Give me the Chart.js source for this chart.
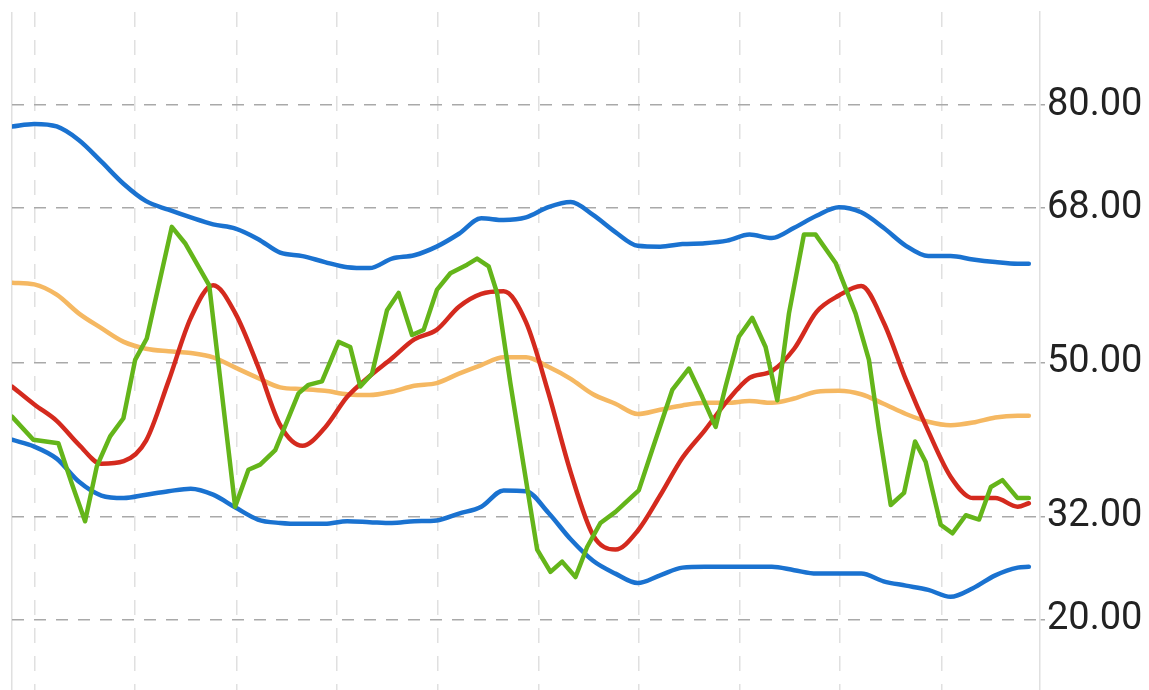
<!DOCTYPE html>
<html>
<head>
<meta charset="utf-8">
<script src="https://cdn.jsdelivr.net/npm/chart.js@4.4.1/dist/chart.umd.min.js"></script>
<style>
  html, body { margin: 0; padding: 0; background: #fff; overflow: hidden; }
</style>
</head>
<body>
<canvas id="chart" width="1149" height="690"></canvas>
<script>
// sample positions (x index) for the smooth lines
const days = [0, 2, 4, 6, 8, 10, 12, 14, 16, 18, 20, 22, 24, 26, 28, 30, 32, 34, 36, 38, 40, 42, 44, 46,
              48, 50, 52, 54, 56, 58, 60, 62, 64, 66, 68, 70, 72, 74, 76, 78, 80, 82, 84, 86, 88, 90, 91];

const upperBand = [77.5, 77.8, 77.5, 75.9, 73.4, 70.8, 68.8, 67.8, 66.9, 66.1, 65.6, 64.4, 62.8, 62.4, 61.7, 61.1,
                   61.0, 62.1, 62.5, 63.5, 65.0, 66.8, 66.6, 66.9, 68.1, 68.7, 67.2, 65.2, 63.6, 63.5, 63.8, 63.9,
                   64.2, 64.9, 64.5, 65.7, 67.1, 68.1, 67.5, 65.7, 63.6, 62.4, 62.4, 62.0, 61.7, 61.5, 61.5];

const lowerBand = [41.0, 40.2, 38.8, 36.1, 34.5, 34.2, 34.6, 35.0, 35.3, 34.6, 33.1, 31.7, 31.3, 31.2, 31.2, 31.5,
                   31.4, 31.3, 31.5, 31.6, 32.4, 33.2, 35.1, 35.0, 32.5, 29.4, 26.9, 25.4, 24.3, 25.2, 26.1, 26.2,
                   26.2, 26.2, 26.2, 25.8, 25.4, 25.4, 25.4, 24.5, 24.0, 23.5, 22.7, 23.7, 25.2, 26.1, 26.2];

const slowAvg = [59.3, 59.1, 57.9, 55.7, 54.0, 52.4, 51.6, 51.3, 51.1, 50.6, 49.4, 48.2, 47.1, 46.9, 46.7, 46.3,
                 46.2, 46.6, 47.3, 47.6, 48.7, 49.7, 50.6, 50.6, 49.5, 48.1, 46.3, 45.2, 44.0, 44.5, 45.0, 45.3,
                 45.3, 45.5, 45.3, 45.8, 46.6, 46.7, 46.3, 45.2, 44.0, 43.1, 42.7, 43.0, 43.6, 43.8, 43.8];

const fastAvg = [47.2, 45.1, 43.2, 40.4, 38.2, 38.5, 40.9, 47.8, 55.2, 59.0, 55.7, 49.6, 42.7, 40.3, 42.4, 46.0,
                 48.4, 50.5, 52.7, 53.8, 56.5, 58.0, 58.3, 54.7, 46.5, 37.2, 29.9, 28.2, 30.4, 34.5, 38.9, 42.1,
                 45.5, 48.2, 49.0, 51.6, 55.9, 57.8, 58.9, 54.7, 48.0, 42.0, 36.7, 34.2, 34.2, 33.2, 33.6];

// the raw (green) line, read at its corners
const rawDays = [0, 1.91, 4.15, 5.35, 6.54, 7.59, 8.78, 9.97, 11.02, 12.06, 14.30, 15.49, 17.65, 19.97, 21.16,
                 22.21, 23.56, 25.64, 26.54, 27.74, 29.23, 30.27, 31.17, 32.22, 33.56, 34.6, 35.8, 36.84, 38.04,
                 39.23, 40.73, 41.62, 42.66, 43.41, 44.6, 45.8, 47.0, 48.19, 49.23, 50.43, 51.47, 52.66, 54.01,
                 56.09, 57.29, 59.09, 60.57, 61.77, 62.97, 63.86, 65.05, 66.25, 67.44, 68.49, 69.53, 70.87, 71.92,
                 73.11, 73.71, 75.5, 76.69, 77.59, 78.64, 79.83, 80.82, 81.77, 83.11, 84.16, 85.36, 86.55, 87.6,
                 88.64, 89.99, 91];
const rawValues = [43.7, 41.0, 40.6, 35.9, 31.5, 37.9, 41.4, 43.5, 50.3, 52.8, 65.8, 63.9, 59.0, 33.2, 37.5,
                   38.1, 39.8, 46.4, 47.4, 47.8, 52.4, 51.8, 47.2, 48.7, 56.1, 58.1, 53.2, 53.8, 58.5,
                   60.4, 61.4, 62.1, 61.2, 58.1, 47.6, 37.9, 28.2, 25.6, 26.8, 25.0, 28.5, 31.3, 32.6,
                   35.1, 39.8, 46.8, 49.3, 46.0, 42.5, 47.2, 53.0, 55.2, 51.8, 45.6, 55.7, 64.9, 64.9,
                   62.7, 61.6, 55.7, 50.3, 42.1, 33.4, 34.8, 40.8, 38.4, 31.1, 30.1, 32.2, 31.7, 35.5,
                   36.3, 34.2, 34.2];

const yTicks = [20, 32, 50, 68, 80];
const xGrid = [0, 2, 11, 20.1, 29.1, 38.1, 47.1, 56.1, 65.1, 74.1, 83.2];

const pts = (xs, ys) => xs.map((x, k) => ({ x: x, y: ys[k] }));

const smooth = { pointRadius: 0, borderWidth: 4.5, cubicInterpolationMode: 'monotone', fill: false,
                 borderJoinStyle: 'round', borderCapStyle: 'round' };

new Chart(document.getElementById('chart'), {
    type: 'line',
    data: {
        datasets: [
            { label: 'raw', data: pts(rawDays, rawValues), borderColor: '#64b51a', pointRadius: 0, borderWidth: 4.5,
              tension: 0, fill: false, borderJoinStyle: 'round', borderCapStyle: 'round' },
            { label: 'fast', data: pts(days, fastAvg), borderColor: '#d42a1e', ...smooth },
            { label: 'slow', data: pts(days, slowAvg), borderColor: '#f5b862', ...smooth },
            { label: 'upper', data: pts(days, upperBand), borderColor: '#1a72d0', ...smooth },
            { label: 'lower', data: pts(days, lowerBand), borderColor: '#1a72d0', ...smooth }
        ]
    },
    options: {
        responsive: false,
        animation: false,
        layout: { padding: { left: 12, top: 12, right: 0, bottom: 0 } },
        plugins: { legend: { display: false }, tooltip: { enabled: false } },
        scales: {
            x: {
                type: 'linear',
                min: 0,
                max: 92,
                afterBuildTicks: s => { s.ticks = xGrid.map(v => ({ value: v })); },
                ticks: { display: false },
                grid: { color: '#e0e0e0', lineWidth: 1.5, drawTicks: false },
                border: { display: false, dash: c => (c.tick && c.tick.value === 0) ? [] : [15, 13] }
            },
            y: {
                type: 'linear',
                position: 'right',
                min: 11.84,
                max: 90.84,
                afterBuildTicks: s => { s.ticks = yTicks.map(v => ({ value: v })); },
                afterFit: s => { s.width = 109; s.paddingTop = 0; s.paddingBottom = 0; },
                grid: { color: '#a9a9a9', lineWidth: 1.5, tickLength: 5 },
                border: { display: true, color: '#e0e0e0', width: 1.5, dash: [12, 10] },
                ticks: {
                    padding: 2,
                    color: '#222',
                    font: { family: 'Roboto', size: 38 },
                    callback: v => Number(v).toFixed(2)
                }
            }
        }
    }
});
</script>
</body>
</html>
